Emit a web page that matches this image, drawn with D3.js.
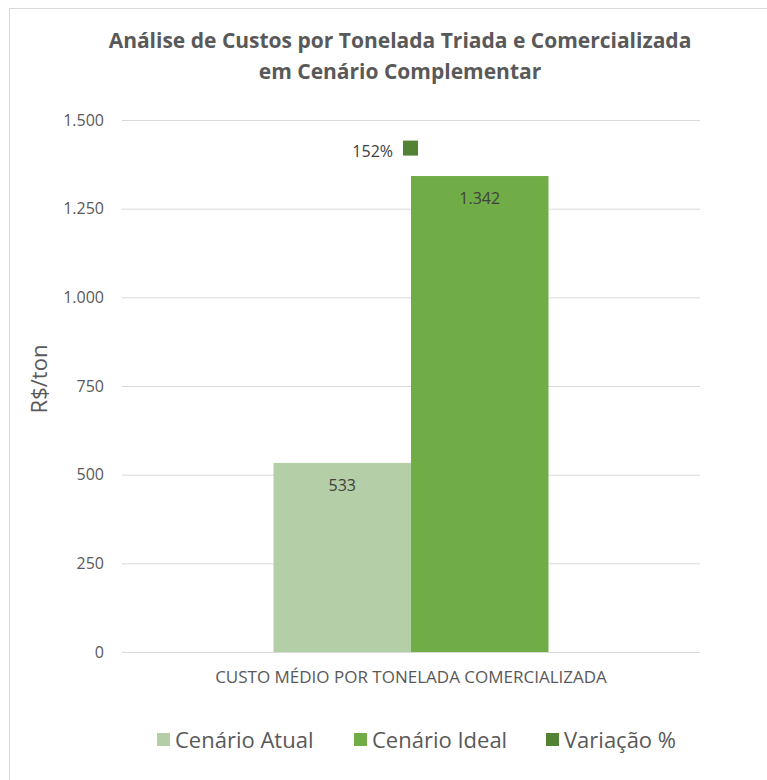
<!DOCTYPE html>
<html><head><meta charset="utf-8">
<script src="https://cdn.jsdelivr.net/npm/d3@7"></script>
<style>body{margin:0;background:#fff}svg{display:block}text{font-family:"Open Sans","Noto Sans",sans-serif}</style>
</head><body>
<script>
const categories = ["CUSTO MÉDIO POR TONELADA COMERCIALIZADA"];
const seriesNames = ["Cenário Atual", "Cenário Ideal", "Variação %"];
const cenarioAtual = [533];
const cenarioIdeal = [1342];
const variacao = [1.52];
const yTicks = [0, 250, 500, 750, 1000, 1250, 1500];
const colors = ["#b4cea7", "#70ad47", "#548235"];

(function () {
const W = 767, H = 780;
const svg = d3.select("body").append("svg").attr("width", W).attr("height", H);
svg.append("rect").attr("x", 9.5).attr("y", 8.5).attr("width", 770).attr("height", 790)
  .attr("fill", "#fff").attr("stroke", "#d9d9d9");

const mL = 122, mR = 700, mT = 120, mB = 652;
const y = d3.scaleLinear().domain([0, 1500]).range([mB, mT]);
const y2 = d3.scaleLinear().domain([0, 1.6]).range([mB, mT]);
const x0 = d3.scaleBand().domain(categories).range([mL, mR]).paddingInner(0).paddingOuter(0.551);
const x1 = d3.scaleBand().domain([0, 1]).range([0, x0.bandwidth()]);

const title = svg.append("text").attr("text-anchor", "middle").attr("fill", "#595959")
  .attr("font-size", 21).attr("font-weight", "bold");
title.append("tspan").attr("x", 400).attr("y", 48).text("Análise de Custos por Tonelada Triada e Comercializada");
title.append("tspan").attr("x", 400).attr("y", 79).text("em Cenário Complementar");

const yAxis = d3.axisLeft(y).tickValues(yTicks).tickSize(-(mR - mL))
  .tickFormat(d => d3.format(",")(d).replace(/,/g, "."));
const ga = svg.append("g").attr("transform", `translate(${mL},0)`).call(yAxis);
ga.select(".domain").remove();
ga.selectAll(".tick line").attr("stroke", "#d9d9d9");
ga.selectAll(".tick text").attr("x", -18).attr("fill", "#595959").attr("font-size", 16);

svg.append("text").attr("transform", "translate(47,379) rotate(-90)").attr("text-anchor", "middle")
  .attr("fill", "#595959").attr("font-size", 22).text("R$/ton");

const data = categories.map((c, i) => ({c, vals: [cenarioAtual[i], cenarioIdeal[i]], v: variacao[i]}));
const g = svg.append("g");
data.forEach(d => {
  d.vals.forEach((v, j) => {
    const bx = x0(d.c) + x1(j);
    g.append("rect").attr("x", bx).attr("y", y(v)).attr("width", x1.bandwidth())
      .attr("height", y(0) - y(v)).attr("fill", colors[j]);
    g.append("text").attr("x", bx + x1.bandwidth() / 2).attr("y", y(v) + 28)
      .attr("text-anchor", "middle").attr("fill", "#404040").attr("font-size", 16)
      .text(d3.format(",")(v).replace(/,/g, "."));
  });
  const cx = x0(d.c) + x0.bandwidth() / 2;
  g.append("rect").attr("x", cx - 8).attr("y", y2(d.v) - 6).attr("width", 15).attr("height", 15)
    .attr("fill", colors[2]);
  g.append("text").attr("x", cx - 18).attr("y", y2(d.v) + 10).attr("text-anchor", "end")
    .attr("fill", "#404040").attr("font-size", 16).text(Math.round(d.v * 100) + "%");
});

svg.append("line").attr("x1", mL).attr("x2", mR).attr("y1", mB + 0.5).attr("y2", mB + 0.5)
  .attr("stroke", "#d9d9d9");

categories.forEach(c => {
  svg.append("text").attr("x", x0(c) + x0.bandwidth() / 2).attr("y", 683).attr("text-anchor", "middle")
    .attr("fill", "#595959").attr("font-size", 17).text(c);
});

const legX = [157, 354, 546];
seriesNames.forEach((s, i) => {
  svg.append("rect").attr("x", legX[i]).attr("y", 733).attr("width", 13).attr("height", 13).attr("fill", colors[i]);
  svg.append("text").attr("x", legX[i] + 18).attr("y", 748).attr("fill", "#595959").attr("font-size", 22)
    .text(s);
});
})();
</script>
</body></html>
